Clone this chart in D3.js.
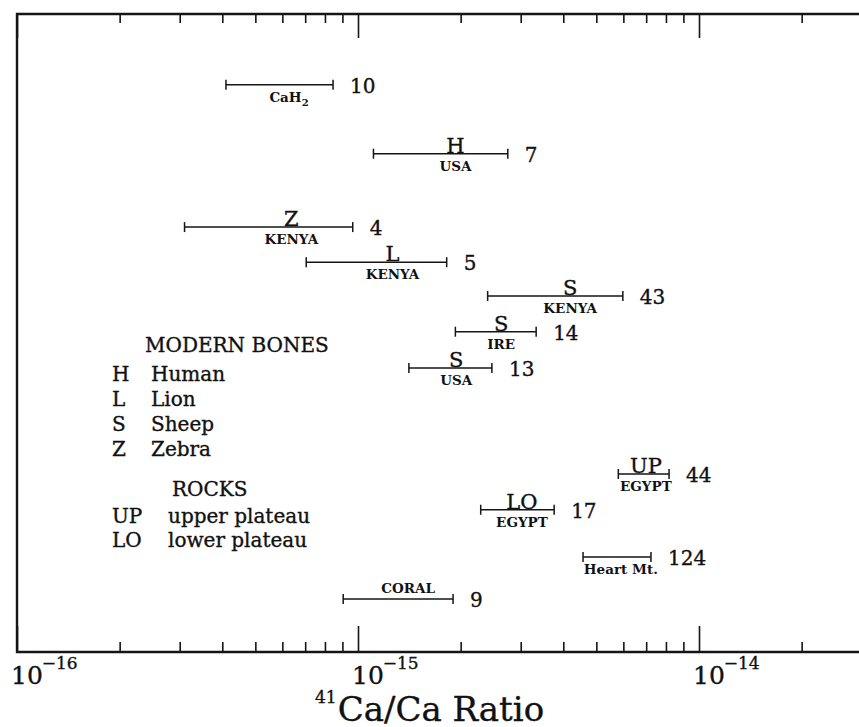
<!DOCTYPE html>
<html lang="en">
  <head>
    <meta charset="utf-8">
    <script type="text/javascript" src="https://d3js.org/d3.v7.min.js"></script>
    <style>
      body { margin: 0; background: white; }
      text { font-family: "DejaVu Serif", serif; fill: #111; stroke: #111; stroke-width: 0.35px; }
    </style>
  </head>
  <body>
    <script type="text/javascript">

    // Data (one row per error bar, top to bottom)
    var upperLabels = ["", "H", "Z", "L", "S", "S", "S", "UP", "LO", "", ""];
    var lowerLabels = ["CaH_2", "USA", "KENYA", "KENYA", "KENYA", "IRE", "USA", "EGYPT", "EGYPT", "Heart Mt.", ""];
    var aboveSmallLabels = ["", "", "", "", "", "", "", "", "", "", "CORAL"];
    var ratioLow = [4.1e-16, 1.11e-15, 3.1e-16, 7.05e-16, 2.4e-15, 1.93e-15, 1.41e-15, 5.8e-15, 2.29e-15, 4.57e-15, 9.05e-16];
    var ratioHigh = [8.45e-16, 2.75e-15, 9.65e-16, 1.82e-15, 5.98e-15, 3.33e-15, 2.47e-15, 8.17e-15, 3.76e-15, 7.23e-15, 1.9e-15];
    var counts = [10, 7, 4, 5, 43, 14, 13, 44, 17, 124, 9];
    var rowPos = [88.9, 78.1, 66.6, 61.1, 55.8, 50.2, 44.5, 27.9, 22.3, 14.9, 8.3];

    // Axis
    var xDomain = [1e-16, 3e-14];
    var majorTicks = [1e-16, 1e-15, 1e-14];
    var majorExponents = ["\u221216", "\u221215", "\u221214"];

    // Legend
    var boneCodes = ["H", "L", "S", "Z"];
    var boneNames = ["Human", "Lion", "Sheep", "Zebra"];
    var rockCodes = ["UP", "LO"];
    var rockNames = ["upper plateau", "lower plateau"];

    var svgW = 859;
    var svgH = 727;
    var plotLeft = 17, plotTop = 14, plotBottom = 652;
    var decade = 341;

    var xScale = d3.scaleLog()
                   .domain(xDomain)
                   .range([plotLeft, plotLeft + decade * Math.log10(xDomain[1] / xDomain[0])]);
    var yScale = d3.scaleLinear()
                   .domain([0, 100])
                   .range([plotBottom, plotTop]);

    var svg = d3.select("body").append("svg")
                .attr("width", svgW)
                .attr("height", svgH);

    var ink = "#151515";

    // Ticks (pointing inward, top and bottom)
    var minorTicks = xScale.ticks().filter(function(v) {
      return majorTicks.every(function(m) { return Math.abs(v / m - 1) > 1e-6; });
    });

    function tickAxis(axis, ty) {
      var g = svg.append("g")
                 .attr("transform", "translate(0," + ty + ")")
                 .call(axis);
      g.select(".domain").remove();
      g.selectAll("line").attr("stroke", ink).attr("stroke-width", 1.6);
      g.selectAll("text").remove();
      return g;
    }
    tickAxis(d3.axisBottom(xScale).tickValues(minorTicks).tickSize(-10).tickFormat(""), plotBottom);
    tickAxis(d3.axisBottom(xScale).tickValues(majorTicks).tickSize(-26).tickFormat(""), plotBottom);
    tickAxis(d3.axisTop(xScale).tickValues(minorTicks).tickSize(-9).tickFormat(""), plotTop);
    tickAxis(d3.axisTop(xScale).tickValues(majorTicks).tickSize(-24).tickFormat(""), plotTop);

    // Frame (left, top, bottom; right side runs off the picture)
    svg.append("path")
       .attr("d", "M" + xScale(xDomain[1]) + "," + plotTop + "H" + plotLeft + "V" + plotBottom + "H" + xScale(xDomain[1]))
       .attr("fill", "none")
       .attr("stroke", ink)
       .attr("stroke-width", 2.4);

    // Tick labels 10^n
    majorTicks.forEach(function(v, i) {
      var t = svg.append("text")
                 .attr("x", xScale(v) - 6)
                 .attr("y", plotBottom + 32)
                 .style("font-size", "25px");
      t.append("tspan").text("10");
      t.append("tspan")
       .attr("dx", -1)
       .attr("dy", -15)
       .style("font-size", "17px")
       .text(majorExponents[i]);
    });

    // Axis title
    var title = svg.append("text")
                   .attr("x", 315)
                   .attr("y", 721)
                   .style("font-size", "17px");
    title.append("tspan").attr("dy", -18).text("41");
    title.append("tspan")
         .attr("dx", 1)
         .attr("dy", 18)
         .style("font-size", "34px")
         .text("Ca/Ca Ratio");

    // Error bars
    var rows = counts.map(function(c, i) {
      return {lo: ratioLow[i], hi: ratioHigh[i], y: rowPos[i], n: c,
              upper: upperLabels[i], lower: lowerLabels[i], above: aboveSmallLabels[i]};
    });

    var bars = svg.selectAll("g.bar")
                  .data(rows)
                  .enter()
                  .append("g")
                  .attr("class", "bar");

    bars.append("line")
        .attr("x1", function(d) { return xScale(d.lo); })
        .attr("x2", function(d) { return xScale(d.hi); })
        .attr("y1", function(d) { return yScale(d.y); })
        .attr("y2", function(d) { return yScale(d.y); })
        .attr("stroke", ink)
        .attr("stroke-width", 1.5);

    ["lo", "hi"].forEach(function(k) {
      bars.append("line")
          .attr("x1", function(d) { return xScale(d[k]); })
          .attr("x2", function(d) { return xScale(d[k]); })
          .attr("y1", function(d) { return yScale(d.y) - 5; })
          .attr("y2", function(d) { return yScale(d.y) + 5; })
          .attr("stroke", ink)
          .attr("stroke-width", 1.5);
    });

    // Counts at the right end
    bars.append("text")
        .attr("x", function(d) { return xScale(d.hi) + 17; })
        .attr("y", function(d) { return yScale(d.y) + 8; })
        .style("font-size", "20px")
        .text(function(d) { return d.n; });

    // Labels centred on the arithmetic mean of the range
    function mid(d) { return xScale((d.lo + d.hi) / 2); }

    bars.append("text")
        .attr("x", mid)
        .attr("y", function(d) { return yScale(d.y) - 1; })
        .attr("text-anchor", "middle")
        .style("font-size", "21px")
        .text(function(d) { return d.upper; });

    bars.append("text")
        .attr("x", mid)
        .attr("y", function(d) { return yScale(d.y) - 6; })
        .attr("text-anchor", "middle")
        .style("font-size", "13.5px")
        .style("font-weight", "bold")
        .style("stroke-width", "0")
        .text(function(d) { return d.above; });

    bars.append("text")
        .attr("x", mid)
        .attr("y", function(d) { return yScale(d.y) + 17; })
        .attr("text-anchor", "middle")
        .style("font-size", "13.5px")
        .style("font-weight", "bold")
        .style("stroke-width", "0")
        .each(function(d) {
          var parts = d.lower.split("_");
          var t = d3.select(this);
          t.append("tspan").text(parts[0]);
          if (parts.length > 1) {
            t.append("tspan").attr("dy", 4).style("font-size", "10px").text(parts[1]);
          }
        });

    // Legend
    var legendSize = "20px";
    svg.append("text").attr("x", 145).attr("y", 352).style("font-size", legendSize).text("MODERN BONES");
    boneCodes.forEach(function(c, i) {
      var yy = 381 + i * 25;
      svg.append("text").attr("x", 112).attr("y", yy).style("font-size", legendSize).text(c);
      svg.append("text").attr("x", 151).attr("y", yy).style("font-size", legendSize).text(boneNames[i]);
    });
    svg.append("text").attr("x", 172).attr("y", 496).style("font-size", legendSize).text("ROCKS");
    rockCodes.forEach(function(c, i) {
      var yy = 523 + i * 24;
      svg.append("text").attr("x", 112).attr("y", yy).style("font-size", legendSize).text(c);
      svg.append("text").attr("x", 168).attr("y", yy).style("font-size", legendSize).text(rockNames[i]);
    });

    </script>
  </body>
</html>
